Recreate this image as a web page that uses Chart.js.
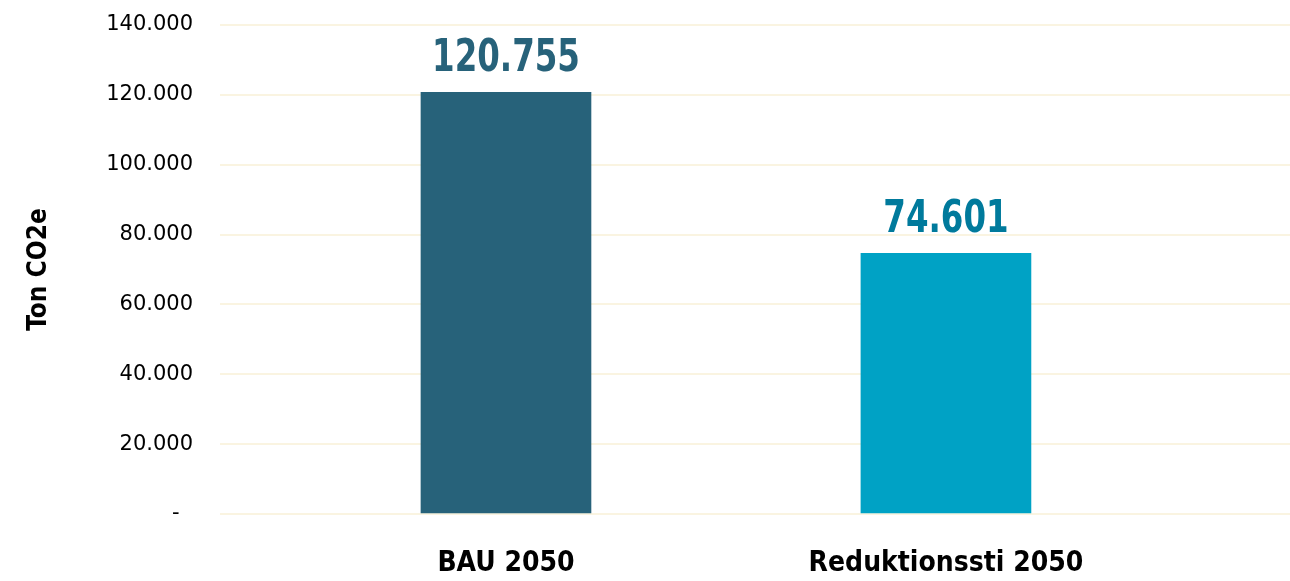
<!DOCTYPE html>
<html>
<head>
<meta charset="utf-8">
<script src="https://cdn.jsdelivr.net/npm/chart.js@4"></script>
<style>
    html, body { margin: 0; padding: 0; background: #fff; }
    #wrap { width: 1290px; height: 581px; }
</style>
</head>
<body>
<div id="wrap"><canvas id="co2Chart" width="1290" height="581"></canvas></div>
<script>
const categories = ['BAU 2050', 'Reduktionssti 2050'];
const emissions = [120755, 74601];
const barColors = ['#27627A', '#00A2C5'];
const labelColors = ['#27627A', '#007A9C'];
const yTicks = [0, 20000, 40000, 60000, 80000, 100000, 120000, 140000];
const yTitle = 'Ton CO2e';

// bar positions on a linear x axis (category slots)
const barSlots = [0.65, 1.65];
const xMax = 2.432;

const narrowFont = "'Liberation Sans Narrow', 'DejaVu Sans Condensed', sans-serif";

function formatDk(value) {
    if (value === 0) return '-  ';
    return value.toString().replace(/\B(?=(\d{3})+(?!\d))/g, '.');
}

const valueLabels = {
    id: 'valueLabels',
    afterDatasetsDraw(chart) {
        const ctx = chart.ctx;
        const meta = chart.getDatasetMeta(0);
        ctx.save();
        ctx.font = "bold 44px " + narrowFont;
        ctx.textAlign = 'center';
        ctx.textBaseline = 'alphabetic';
        meta.data.forEach((bar, i) => {
            ctx.fillStyle = labelColors[i];
            ctx.save();
            ctx.translate(bar.x, bar.y - 21);
            ctx.scale(0.82, 1);
            ctx.fillText(formatDk(emissions[i]), 0, 0);
            ctx.restore();
        });
        ctx.restore();
    }
};

const ctx = document.getElementById('co2Chart');

new Chart(ctx, {
    type: 'bar',
    data: {
        datasets: [{
            label: yTitle,
            data: barSlots.map((x, i) => ({ x: x, y: emissions[i] })),
            backgroundColor: barColors,
            barThickness: 170,
            borderWidth: 0
        }]
    },
    options: {
        responsive: false,
        animation: false,
        layout: { padding: { top: 25, right: 0, bottom: 0, left: 0 } },
        plugins: {
            legend: { display: false },
            tooltip: { enabled: false }
        },
        scales: {
            x: {
                type: 'linear',
                min: 0,
                max: xMax,
                offset: false,
                grid: { display: false, drawTicks: false, offset: false },
                border: { display: false },
                afterBuildTicks: (scale) => {
                    scale.ticks = barSlots.map(v => ({ value: v }));
                },
                afterFit: (scale) => {
                    scale.height = 67;
                    scale.paddingLeft = 0;
                    scale.paddingRight = 0;
                },
                ticks: {
                    autoSkip: false,
                    maxRotation: 0,
                    padding: 33,
                    color: '#000',
                    font: { family: narrowFont, size: 28, weight: 'bold' },
                    callback: (value) => {
                        const i = barSlots.indexOf(value);
                        return i >= 0 ? categories[i] : '';
                    }
                }
            },
            y: {
                min: 0,
                max: 140000,
                afterBuildTicks: (scale) => {
                    scale.ticks = yTicks.map(v => ({ value: v }));
                },
                afterFit: (scale) => {
                    scale.width = 220;
                    scale.paddingTop = 0;
                    scale.paddingBottom = 0;
                },
                grid: { color: '#FAF4E1', lineWidth: 2, drawTicks: false },
                border: { display: false },
                ticks: {
                    padding: 27,
                    color: '#000',
                    font: { family: "'DejaVu Sans', Verdana, sans-serif", size: 21 },
                    callback: (value) => formatDk(value)
                },
                title: {
                    display: true,
                    text: yTitle,
                    color: '#000',
                    padding: { top: 24, bottom: 0 },
                    font: { family: narrowFont, size: 26, weight: 'bold' }
                }
            }
        }
    },
    plugins: [valueLabels]
});
</script>
</body>
</html>
